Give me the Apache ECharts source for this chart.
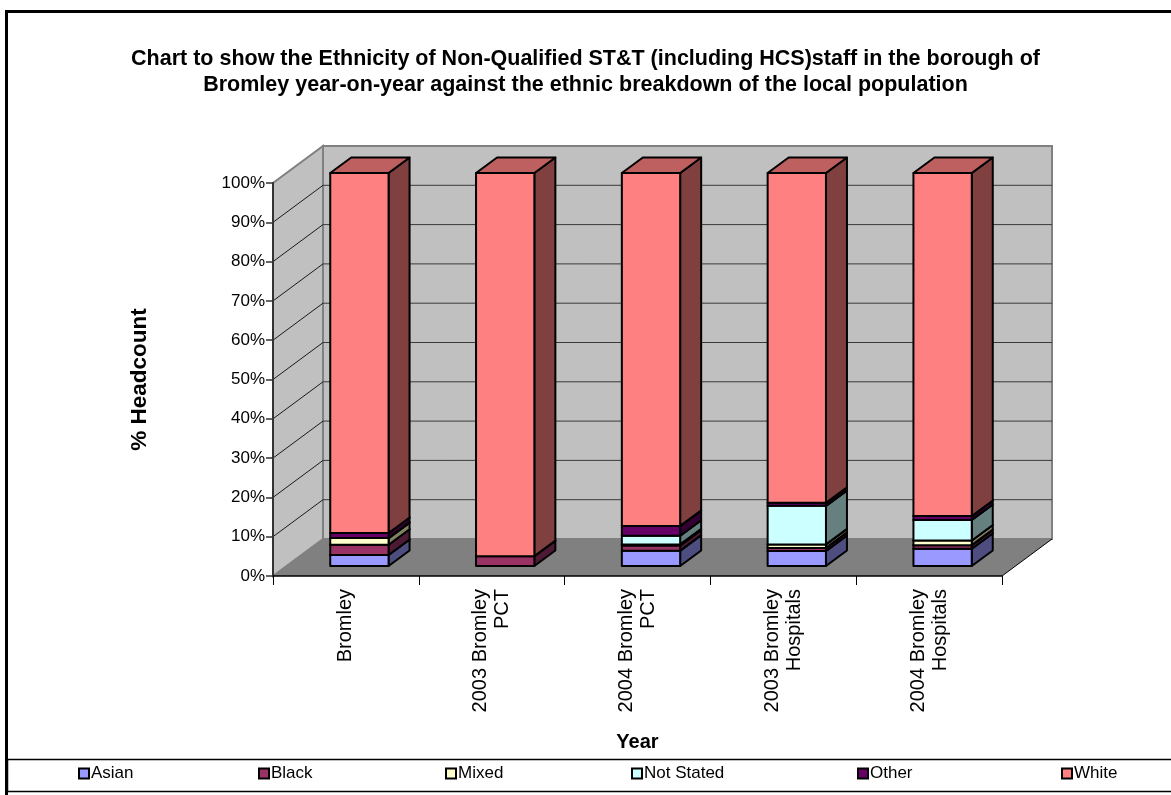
<!DOCTYPE html>
<html>
<head>
<meta charset="utf-8">
<title>Ethnicity of Non-Qualified ST&amp;T staff – Bromley</title>
<script src="https://cdn.jsdelivr.net/npm/echarts@6/dist/echarts.min.js"></script>
<style>
  html, body { margin: 0; padding: 0; background: #fff; }
  #chart { width: 1171px; height: 795px; }
</style>
</head>
<body>
<div id="chart"></div>
<script>
// Categories along the x axis
const categories = ['Bromley', '2003 Bromley\nPCT', '2004 Bromley\nPCT', '2003 Bromley\nHospitals', '2004 Bromley\nHospitals'];

// Percentage of headcount per ethnic group (stacked bottom to top)
const asian     = [2.8, 0.0, 3.9, 3.8, 4.4];
const black     = [2.6, 2.5, 1.3, 0.8, 0.9];
const mixed     = [1.7, 0.0, 0.3, 0.9, 1.2];
const notStated = [0.0, 0.0, 2.2, 9.8, 5.2];
const other     = [1.3, 0.0, 2.5, 0.8, 1.0];
const white     = [91.6, 97.5, 89.8, 83.9, 87.3];

const groupNames  = ['Asian', 'Black', 'Mixed', 'Not Stated', 'Other', 'White'];
const groupValues = [asian, black, mixed, notStated, other, white];
const groupColors = ['#9999FF', '#993366', '#FFFFCC', '#CCFFFF', '#660066', '#FF8080'];

// y axis tick values (percent)
const yMin = 0, yMax = 100, yStep = 10;

// 3D projection settings (pixels)
const WALL_DX = 50, WALL_DY = -37;     // depth of the back wall
const BAR_FX = 13.5, BAR_FY = -10;     // bar front face offset from the front plane
const BAR_DX = 21, BAR_DY = -15.5;     // bar depth
const BAR_RATIO = 0.4;                 // bar width relative to category band

const FONT = '"Liberation Sans", Arial, sans-serif';

function shade(hex, f) {
  const n = parseInt(hex.slice(1), 16);
  const r = Math.round(((n >> 16) & 255) * f);
  const g = Math.round(((n >> 8) & 255) * f);
  const b = Math.round((n & 255) * f);
  return 'rgb(' + r + ',' + g + ',' + b + ')';
}

// Walls, floor and gridlines of the 3D box
function renderWalls(params, api) {
  const cs = params.coordSys;
  const L = cs.x, R = cs.x + cs.width, T = cs.y, B = cs.y + cs.height;
  const children = [];
  children.push({
    type: 'polygon',
    shape: { points: [[L + WALL_DX, T + WALL_DY], [R + WALL_DX, T + WALL_DY], [R + WALL_DX, B + WALL_DY], [L + WALL_DX, B + WALL_DY]] },
    style: { fill: '#C0C0C0', stroke: '#808080', lineWidth: 2 }
  });
  children.push({
    type: 'polygon',
    shape: { points: [[L, B], [L, T], [L + WALL_DX, T + WALL_DY], [L + WALL_DX, B + WALL_DY]] },
    style: { fill: '#C0C0C0', stroke: '#808080', lineWidth: 2 }
  });
  for (let v = yMin + yStep; v < yMax; v += yStep) {
    const y = api.coord([0, v])[1];
    children.push({
      type: 'line',
      shape: { x1: L + WALL_DX, y1: y + WALL_DY, x2: R + WALL_DX, y2: y + WALL_DY },
      style: { stroke: '#3a3a3a', lineWidth: 1 }
    });
    children.push({
      type: 'line',
      shape: { x1: L, y1: y, x2: L + WALL_DX, y2: y + WALL_DY },
      style: { stroke: '#1a1a1a', lineWidth: 1 }
    });
  }
  children.push({
    type: 'polygon',
    shape: { points: [[L, B], [R, B], [R + WALL_DX, B + WALL_DY], [L + WALL_DX, B + WALL_DY]] },
    style: { fill: '#808080', stroke: null }
  });
  children.push({
    type: 'line',
    shape: { x1: R, y1: B, x2: R + WALL_DX, y2: B + WALL_DY },
    style: { stroke: '#000', lineWidth: 1 }
  });
  return { type: 'group', children: children };
}

// One stacked block drawn as a 3D box (front, side and top faces)
function makeBoxRenderer(color) {
  return function (params, api) {
    const idx = api.value(0), base = api.value(1), top = api.value(2);
    if (top - base <= 0) return null;
    const p0 = api.coord([idx, base]);
    const p1 = api.coord([idx, top]);
    const w = api.size([1, 0])[0] * BAR_RATIO;
    const cx = p0[0] + BAR_FX;
    const x0 = cx - w / 2, x1 = cx + w / 2;
    const yb = p0[1] + BAR_FY, yt = p1[1] + BAR_FY;
    const line = { stroke: '#000', lineWidth: 2, lineJoin: 'round' };
    return {
      type: 'group',
      children: [
        { type: 'polygon', shape: { points: [[x1, yb], [x1 + BAR_DX, yb + BAR_DY], [x1 + BAR_DX, yt + BAR_DY], [x1, yt]] },
          style: Object.assign({ fill: shade(color, 0.5) }, line) },
        { type: 'polygon', shape: { points: [[x0, yt], [x1, yt], [x1 + BAR_DX, yt + BAR_DY], [x0 + BAR_DX, yt + BAR_DY]] },
          style: Object.assign({ fill: shade(color, 0.75) }, line) },
        { type: 'polygon', shape: { points: [[x0, yb], [x1, yb], [x1, yt], [x0, yt]] },
          style: Object.assign({ fill: color }, line) }
      ]
    };
  };
}

// Build stacked [category, base, top] rows per group
const running = categories.map(() => 0);
const boxSeries = groupNames.map((name, g) => {
  const data = categories.map((c, i) => {
    const base = running[i];
    running[i] = base + groupValues[g][i];
    return [i, base, running[i]];
  });
  return {
    name: name,
    type: 'custom',
    renderItem: makeBoxRenderer(groupColors[g]),
    itemStyle: { color: groupColors[g], borderColor: '#000', borderWidth: 1.5 },
    encode: { x: 0, y: [1, 2] },
    data: data,
    z: 3
  };
});

// Legend entries laid out along a single row
const legendLeft = [78, 258, 445, 631, 857, 1061];
const legends = groupNames.map((name, g) => ({
  data: [name],
  left: legendLeft[g],
  top: 765,
  icon: 'rect',
  itemWidth: 10,
  itemHeight: 10,
  itemGap: 4,
  padding: 0,
  selectedMode: false,
  textStyle: { fontFamily: FONT, fontSize: 17, color: '#000', padding: [0, 0, 0, -3] }
}));

const chart = echarts.init(document.getElementById('chart'), null, { renderer: 'canvas' });
chart.setOption({
  backgroundColor: '#fff',
  animation: false,
  title: {
    text: 'Chart to show the Ethnicity of Non-Qualified ST&T (including HCS)staff in the borough of\nBromley year-on-year against the ethnic breakdown of the local population',
    left: 'center',
    top: 41,
    textStyle: { fontFamily: FONT, fontSize: 21.5, fontWeight: 'bold', color: '#000', lineHeight: 26 }
  },
  legend: legends,
  grid: { left: 273, top: 183, width: 729, height: 393, containLabel: false },
  xAxis: {
    type: 'category',
    data: categories,
    name: 'Year',
    nameLocation: 'middle',
    nameGap: 156,
    nameTextStyle: { fontFamily: FONT, fontSize: 20, fontWeight: 'bold', color: '#000' },
    axisLine: { lineStyle: { color: '#000', width: 1.5 } },
    axisTick: { show: true, length: 9, interval: 0, lineStyle: { color: '#000' } },
    axisLabel: { interval: 0, rotate: 90, margin: 13, fontFamily: FONT, fontSize: 20, color: '#000', lineHeight: 22 },
    splitLine: { show: false },
    z: 5
  },
  yAxis: {
    type: 'value',
    min: yMin,
    max: yMax,
    interval: yStep,
    name: '% Headcount',
    nameLocation: 'middle',
    nameGap: 122,
    nameRotate: 90,
    nameTextStyle: { fontFamily: FONT, fontSize: 22.5, fontWeight: 'bold', color: '#000' },
    axisLine: { show: true, lineStyle: { color: '#333', width: 2 } },
    axisTick: { show: true, length: 7, lineStyle: { color: '#333', width: 1.5 } },
    axisLabel: { formatter: '{value}%', margin: 8, fontFamily: FONT, fontSize: 17, color: '#000' },
    splitLine: { show: false },
    z: 5
  },
  graphic: [
    { type: 'rect', left: 4, top: 9, shape: { width: 1190, height: 800 }, style: { fill: null, stroke: '#000', lineWidth: 3 }, silent: true, z: 10 },
    { type: 'rect', left: 5, top: 757, shape: { width: 1180, height: 32 }, style: { fill: null, stroke: '#000', lineWidth: 1.5 }, silent: true, z: 10 }
  ],
  series: [
    { name: 'walls', type: 'custom', renderItem: renderWalls, data: [[0, 0]], z: 1, silent: true }
  ].concat(boxSeries)
});
</script>
</body>
</html>
